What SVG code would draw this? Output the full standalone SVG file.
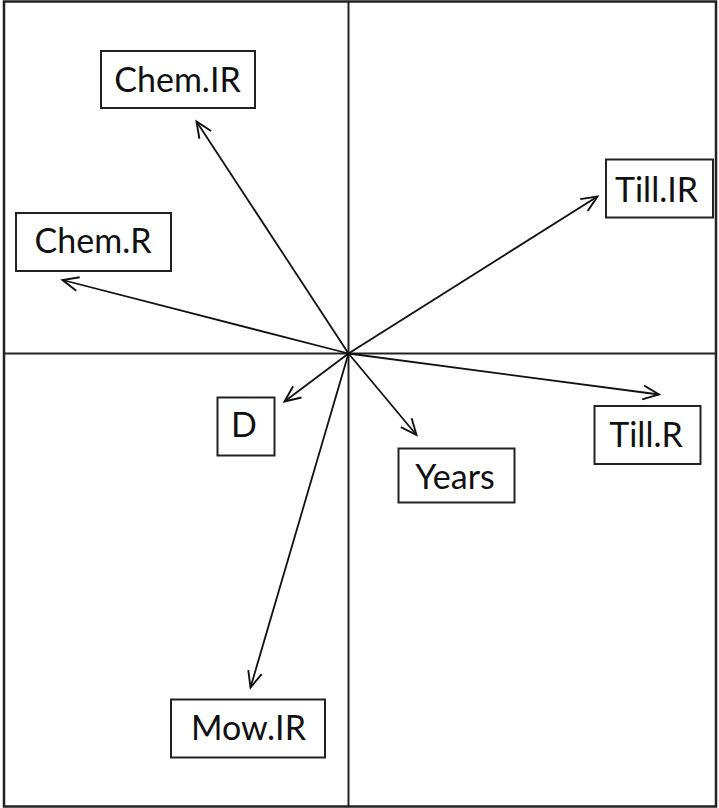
<svg xmlns="http://www.w3.org/2000/svg" width="719" height="808" viewBox="0 0 719 808">
<style>
.frame{fill:none;stroke:#222;stroke-width:2.5}
.axis{stroke:#222;stroke-width:2}
.box{fill:#fff;stroke:#222;stroke-width:2}
.lbl{font-family:Lato,"Open Sans",sans-serif;font-size:34px;fill:#111;text-anchor:middle}
.arr{stroke:#111;stroke-width:1.8;fill:none;marker-end:url(#ah)}
</style>
<defs>
<marker id="ah" markerUnits="userSpaceOnUse" markerWidth="24" markerHeight="24" viewBox="-20 -12 24 24" refX="0" refY="0" orient="auto">
<path d="M -16 -7 L 0 0 L -16 7" fill="none" stroke="#111" stroke-width="1.9"/>
</marker>
</defs>
<rect class="frame" x="4" y="1.5" width="712" height="805"/>
<g id="axes">
<line class="axis" x1="348.5" y1="1.5" x2="348.5" y2="806.5"/>
<line class="axis" x1="4" y1="353.5" x2="716" y2="353.5"/>
</g>
<g id="connectors">
<line class="arr" x1="348.5" y1="353.5" x2="196.5" y2="121.5"/>
<line class="arr" x1="348.5" y1="353.5" x2="62.5" y2="280"/>
<line class="arr" x1="348.5" y1="353.5" x2="597.5" y2="196.5"/>
<line class="arr" x1="348.5" y1="353.5" x2="659" y2="394.5"/>
<line class="arr" x1="348.5" y1="353.5" x2="284.5" y2="401.5"/>
<line class="arr" x1="348.5" y1="353.5" x2="416.5" y2="435"/>
<line class="arr" x1="348.5" y1="353.5" x2="250.5" y2="687.5"/>
</g>
<g id="chem-ir"><rect class="box" x="101" y="51" width="154" height="57"/><text class="lbl" x="177.5" y="92">Chem.IR</text></g>
<g id="chem-r"><rect class="box" x="16" y="213" width="155" height="58"/><text class="lbl" x="93" y="253">Chem.R</text></g>
<g id="till-ir"><rect class="box" x="606" y="159.5" width="107" height="58"/><text class="lbl" x="656.5" y="202">Till.IR</text></g>
<g id="till-r"><rect class="box" x="594.5" y="406" width="106" height="58"/><text class="lbl" x="646" y="447">Till.R</text></g>
<g id="years"><rect class="box" x="398.5" y="448.5" width="116" height="54"/><text class="lbl" x="455" y="489">Years</text></g>
<g id="mow-ir"><rect class="box" x="171" y="699.5" width="154" height="58"/><text class="lbl" x="248.5" y="740">Mow.IR</text></g>
<g id="d"><rect class="box" x="217.5" y="397.5" width="57" height="58"/><text class="lbl" x="244" y="437">D</text></g>
</svg>
